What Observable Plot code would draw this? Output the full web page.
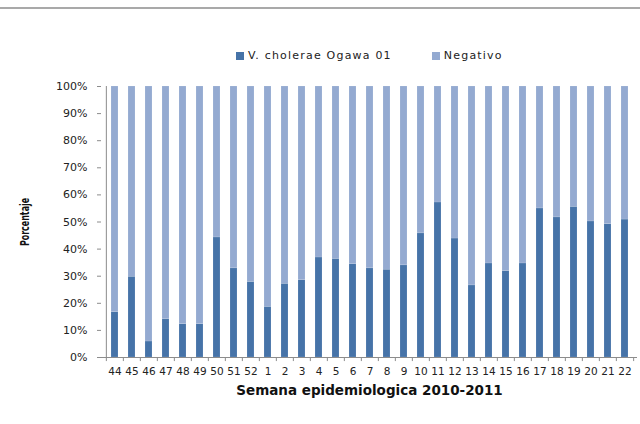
<!DOCTYPE html>
<html>
<head>
<meta charset="utf-8">
<script src="https://cdn.jsdelivr.net/npm/d3@7"></script>
<script src="https://cdn.jsdelivr.net/npm/@observablehq/plot@0.6"></script>
<style>
  html, body { margin: 0; padding: 0; background: #fff; }
  #wrap { position: relative; width: 640px; height: 424px; overflow: hidden; background: #fff; }
  #topline { position: absolute; left: 0; right: 0; top: 7px; border-top: 2px solid #a9a9a9; }
  #legend { position: absolute; top: 49px; left: 236px; font-family: "DejaVu Sans", sans-serif; font-size: 11px; letter-spacing: 1.2px; color: #222; display: flex; align-items: center; white-space: nowrap; }
  #legend .sw { display: inline-block; width: 8px; height: 8px; margin-right: 4px; }
  #legend .item { display: flex; align-items: center; }
  #chart { position: absolute; left: 0; top: 0; }
</style>
</head>
<body>
<div id="wrap">
  <div id="topline"></div>
  <div id="legend"></div>
  <div id="chart"></div>
</div>
<script>
const weeks = ["44","45","46","47","48","49","50","51","52","1","2","3","4","5","6","7","8","9","10","11","12","13","14","15","16","17","18","19","20","21","22"];
const cholerae = [16.7, 29.8, 5.9, 14.1, 12.3, 12.3, 44.3, 32.9, 27.9, 18.7, 27.2, 28.5, 36.9, 36.4, 34.4, 32.9, 32.4, 34.0, 45.8, 57.2, 43.9, 26.6, 34.7, 31.9, 34.7, 55.0, 51.7, 55.6, 50.2, 49.2, 50.9];
const negativo = [83.3, 70.2, 94.1, 85.9, 87.7, 87.7, 55.7, 67.1, 72.1, 81.3, 72.8, 71.5, 63.1, 63.6, 65.6, 67.1, 67.6, 66.0, 54.2, 42.8, 56.1, 73.4, 65.3, 68.1, 65.3, 45.0, 48.3, 44.4, 49.8, 50.8, 49.1];
const seriesNames = ["V. cholerae Ogawa 01", "Negativo"];
const seriesColors = ["#4673a8", "#94aad1"];
const yTicks = [0, 10, 20, 30, 40, 50, 60, 70, 80, 90, 100];
const xTitle = "Semana epidemiologica 2010-2011";
const yTitle = "Porcentaje";

const rows = [];
weeks.forEach((w, i) => {
  rows.push({week: w, series: seriesNames[0], value: cholerae[i]});
  rows.push({week: w, series: seriesNames[1], value: negativo[i]});
});

const W = 640, H = 424, mL = 101, mR = 3, mT = 86, mB = 67;
const step = (W - mL - mR) / weeks.length;

const chart = Plot.plot({
  width: W, height: H,
  marginLeft: mL, marginRight: mR, marginTop: mT, marginBottom: mB,
  style: {fontFamily: "DejaVu Sans, sans-serif", fontSize: "10px", color: "#222", background: "transparent"},
  x: {domain: weeks, paddingInner: 0.61, paddingOuter: 0.305, axis: null, label: null},
  y: {domain: [0, 100], axis: null, label: null},
  color: {domain: seriesNames, range: seriesColors},
  marks: [
    Plot.barY(rows, {x: "week", y: "value", fill: "series", order: seriesNames, stroke: "#fff", strokeOpacity: 0.25, strokeWidth: 0.5}),
    Plot.axisY({ticks: yTicks, tickSize: 4, tickPadding: 10, label: null, tickFormat: d => d + "%", stroke: "#8c8c8c", fontSize: 11, letterSpacing: "1.2px"}),
    Plot.axisX({tickSize: 0, tickPadding: 10, label: null, fontSize: 10.5, letterSpacing: "1.8px"}),
    Plot.ruleX(weeks, {x: d => d, dx: -step / 2, y1: 0, y2: -1.5, stroke: "#8c8c8c"}),
    Plot.ruleX(weeks.slice(-1), {x: d => d, dx: step / 2, y1: 0, y2: -1.5, stroke: "#8c8c8c"}),
    Plot.ruleY([0], {stroke: "#8c8c8c"}),
    Plot.ruleX(weeks.slice(0, 1), {x: d => d, dx: -step / 2, y1: 0, y2: 100, stroke: "#8c8c8c"}),
    Plot.text([xTitle], {frameAnchor: "bottom", dy: 33, lineAnchor: "middle", fontWeight: "bold", fontSize: 13.5, letterSpacing: "1.5px", fill: "#111"}),
    Plot.text([yTitle], {frameAnchor: "left", dx: -77, rotate: -90, textAnchor: "middle", lineAnchor: "middle", fontFamily: "DejaVu Sans Condensed, sans-serif", fontWeight: "bold", fontSize: 13, fill: "#111", className: "ytitle"})
  ]
});
// squeeze the rotated axis title along its length (narrow font look)
d3.select(chart).selectAll("g.ytitle text").each(function() {
  const t = this.getAttribute("transform") || "";
  this.setAttribute("transform", t + " scale(0.68,1)");
});
document.getElementById("chart").appendChild(chart);

const legend = document.getElementById("legend");
seriesNames.forEach((name, i) => {
  const item = document.createElement("span");
  item.className = "item";
  if (i > 0) item.style.marginLeft = "40px";
  const sw = document.createElement("span");
  sw.className = "sw";
  sw.style.background = seriesColors[i];
  item.appendChild(sw);
  item.appendChild(document.createTextNode(name));
  legend.appendChild(item);
});
</script>
</body>
</html>
